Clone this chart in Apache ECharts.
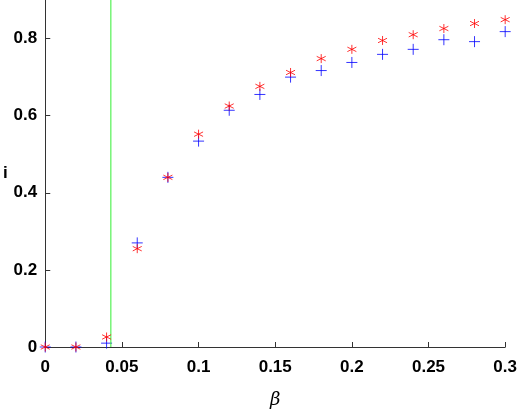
<!DOCTYPE html>
<html><head><meta charset="utf-8">
<script src="https://cdn.jsdelivr.net/npm/echarts@6/dist/echarts.min.js"></script>
<style>html,body{margin:0;background:#fff}#c{width:520px;height:414px}</style>
</head><body><div id="c"></div>
<script>
const beta = [0, 0.02, 0.04, 0.06, 0.08, 0.1, 0.12, 0.14, 0.16, 0.18, 0.2, 0.22, 0.24, 0.26, 0.28, 0.3];
const redStar = [0, 0, 0.026, 0.255, 0.44, 0.552, 0.625, 0.676, 0.712, 0.748, 0.772, 0.795, 0.81, 0.826, 0.839, 0.849];
const bluePlus = [0, 0, 0.01, 0.27, 0.44, 0.534, 0.614, 0.655, 0.70, 0.717, 0.738, 0.759, 0.772, 0.797, 0.792, 0.818];
const threshold = 0.0428;

const star = 'path://M0,-10L0,10M-8.7,-5L8.7,5M-8.7,5L8.7,-5';
const plus = 'path://M0,-10L0,10M-10,0L10,0';

const chart = echarts.init(document.getElementById('c'));
const txt = {fontFamily: 'Arial, Liberation Sans', fontWeight: 'bold', fontSize: 17, color: '#000'};
chart.setOption({
  animation: false,
  grid: {left: 44, right: 10, top: 0, bottom: 66},
  xAxis: {
    type: 'value', min: 0, max: 0.3, interval: 0.05,
    axisLine: {lineStyle: {color: '#333'}}, axisTick: {inside: true, length: 5, lineStyle: {color: '#333'}},
    splitLine: {show: false},
    axisLabel: Object.assign({margin: 12}, txt),
    name: 'β', nameLocation: 'middle', nameGap: 44,
    nameTextStyle: {fontFamily: 'DejaVu Serif', fontStyle: 'italic', fontSize: 18, color: '#000'}
  },
  yAxis: {
    type: 'value', min: 0, max: 0.9, interval: 0.2,
    axisLine: {show: true, lineStyle: {color: '#333'}}, axisTick: {show: true, inside: true, length: 5, lineStyle: {color: '#333'}},
    splitLine: {show: false},
    axisLabel: Object.assign({margin: 8, showMaxLabel: false, formatter: v => v === 0 ? '0' : v.toFixed(1)}, txt),
    name: 'i', nameLocation: 'middle', nameGap: 36, nameRotate: 0,
    nameTextStyle: txt
  },
  series: [
    {type: 'scatter', symbol: star, symbolSize: 9, data: beta.map((b, k) => [b, redStar[k]]),
      itemStyle: {color: 'none', borderColor: '#ff0000', borderWidth: 1}, z: 3},
    {type: 'scatter', symbol: plus, symbolSize: 11, data: beta.map((b, k) => [b, bluePlus[k]]),
      itemStyle: {color: 'none', borderColor: '#0000ff', borderWidth: 1}, z: 2},
    {type: 'line', data: [[threshold, 0], [threshold, 0.9]], symbol: 'none',
      lineStyle: {color: '#33ee33', width: 1}}
  ]
});
</script></body></html>
